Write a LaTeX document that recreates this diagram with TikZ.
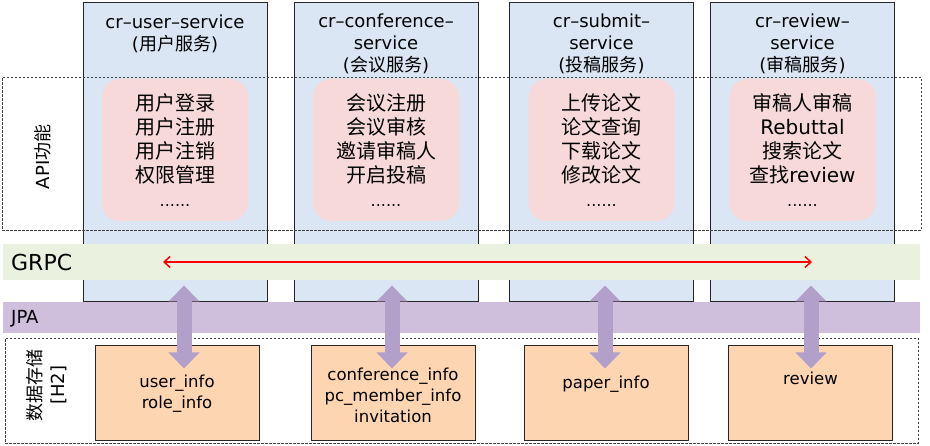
\documentclass[tikz,border=0pt]{standalone}
\usepackage{fontspec}
\setmainfont{DejaVu Sans}
\newfontfamily\cjkfont{Noto Sans CJK SC}
\newcommand\zh[1]{{\cjkfont #1}}
\usetikzlibrary{arrows.meta}
\usetikzlibrary{positioning}

\definecolor{svcblue}{HTML}{DAE6F4}
\definecolor{apipink}{HTML}{F7D9DA}
\definecolor{grpcgreen}{HTML}{EBF1DF}
\definecolor{jpapurple}{HTML}{CFBFDD}
\definecolor{linkpurple}{HTML}{B3A0CA}
\definecolor{dborange}{HTML}{FDD5B1}

\tikzset{
  svcbox/.style={draw=black!85, line width=1pt, fill=svcblue, anchor=north,
                 minimum width=184pt, minimum height=299pt, inner sep=0pt},
  svctitle/.style={align=center, inner sep=0pt, font=\fontsize{18}{22}\selectfont},
  layerbox/.style={draw=black!75, dash pattern=on 2.5pt off 1.5pt, line width=0.7pt,
                   anchor=north west, inner sep=0pt},
  apibox/.style={fill=apipink, rounded corners=18pt, minimum width=146pt,
                 minimum height=142pt, align=center, font=\fontsize{20}{24}\selectfont},
  band/.style={anchor=north west, minimum width=917pt, inner sep=0pt},
  bandtext/.style={anchor=west, inner sep=0pt},
  dbbox/.style={draw=black!85, line width=1pt, fill=dborange,
                minimum width=164pt, minimum height=95pt},
  dbtext/.style={align=center, inner sep=0pt, font=\fontsize{16.5}{21}\selectfont},
  sidelabel/.style={rotate=90, align=center, inner sep=0pt, font=\fontsize{18}{23}\selectfont},
  rpcline/.style={red, line width=1.5pt, {Straight Barb[length=6pt,width=11pt]}-{Straight Barb[length=6pt,width=11pt]}},
  jpalink/.style={linkpurple, line width=15pt, {Triangle[length=16pt,width=30pt]}-{Triangle[length=16pt,width=30pt]}}
}
\newcommand\moredots{{\fontsize{16}{24}\selectfont ......}}

\begin{document}
\begin{tikzpicture}[x=1pt,y=-1pt]
    \useasboundingbox (0,0) rectangle (930,446);

    % Services
    \node[svcbox] (svc1) at (175,2) {};
    \node[svcbox] (svc2) at (386,2) {};
    \node[svcbox] (svc3) at (601.5,2) {};
    \node[svcbox] (svc4) at (802.5,2) {};

    \node[svctitle] (t1) at ([yshift=-32pt]svc1.north) {cr--user--service\\(\zh{用户服务})};
    \node[svctitle] (t2) at ([yshift=-41.5pt]svc2.north) {cr--conference--\\service\\(\zh{会议服务})};
    \node[svctitle] (t3) at ([yshift=-41.5pt]svc3.north) {cr--submit--\\service\\(\zh{投稿服务})};
    \node[svctitle] (t4) at ([yshift=-41.5pt]svc4.north) {cr--review--\\service\\(\zh{审稿服务})};

    % API layer
    \node[layerbox, minimum width=919pt, minimum height=153pt] (api) at (2,77) {};
    \node[sidelabel] (apilabel) at ([xshift=41pt,yshift=-3pt]api.west) {API\zh{功能}};

    \node[apibox] (f1) at ([yshift=-148pt]svc1.north)
        {\zh{用户登录}\\\zh{用户注册}\\\zh{用户注销}\\\zh{权限管理}\\\moredots};
    \node[apibox] (f2) at ([yshift=-148pt]svc2.north)
        {\zh{会议注册}\\\zh{会议审核}\\\zh{邀请审稿人}\\\zh{开启投稿}\\\moredots};
    \node[apibox] (f3) at ([yshift=-148pt]svc3.north)
        {\zh{上传论文}\\\zh{论文查询}\\\zh{下载论文}\\\zh{修改论文}\\\moredots};
    \node[apibox] (f4) at ([yshift=-148pt]svc4.north)
        {\zh{审稿人审稿}\\Rebuttal\\\zh{搜索论文}\\\zh{查找}review\\\moredots};

    % GRPC
    \node[band, fill=grpcgreen, minimum height=36pt] (grpc) at (3,244) {};
    \node[bandtext, font=\fontsize{22}{26}\selectfont] (grpclabel) at ([xshift=8pt]grpc.west) {GRPC};
    \coordinate (rpcL) at (163,262);
    \coordinate (rpcR) at (812,262);
    \draw[rpcline] (rpcL) -- (rpcR);

    % JPA
    \node[band, fill=jpapurple, minimum height=31pt] (jpa) at (3,302) {};
    \node[bandtext, font=\fontsize{18}{22}\selectfont] (jpalabel) at ([xshift=8pt,yshift=-1pt]jpa.west) {JPA};

    % Storage
    \node[layerbox, minimum width=913pt, minimum height=105pt] (store) at (5,338) {};
    \node[sidelabel] (storelabel) at ([xshift=41.5pt,yshift=5.5pt]store.west) {\zh{数据存储}\\{}[H2]};

    \node[dbbox] (db1) at (177,393.5) {};
    \node[dbbox] (db2) at (393,393.5) {};
    \node[dbbox] (db3) at (606,393.5) {};
    \node[dbbox] (db4) at (810.5,393.5) {};

    \node[dbtext] at (db1.center) {user\_info\\role\_info};
    \node[dbtext] at ([yshift=-1.5pt]db2.center) {conference\_info\\pc\_member\_info\\invitation};
    \node[dbtext] at ([yshift=9.5pt]db3.center) {paper\_info};
    \node[dbtext] at ([yshift=15.5pt]db4.center) {review};

    % Links
    \foreach \i/\dx in {1/7,2/-1,3/-1,4/0.5} {
        \draw[jpalink] ([xshift=\dx pt,yshift=-23pt]db\i.north) -- ++(0,-83);
    }
\end{tikzpicture}
\end{document}
